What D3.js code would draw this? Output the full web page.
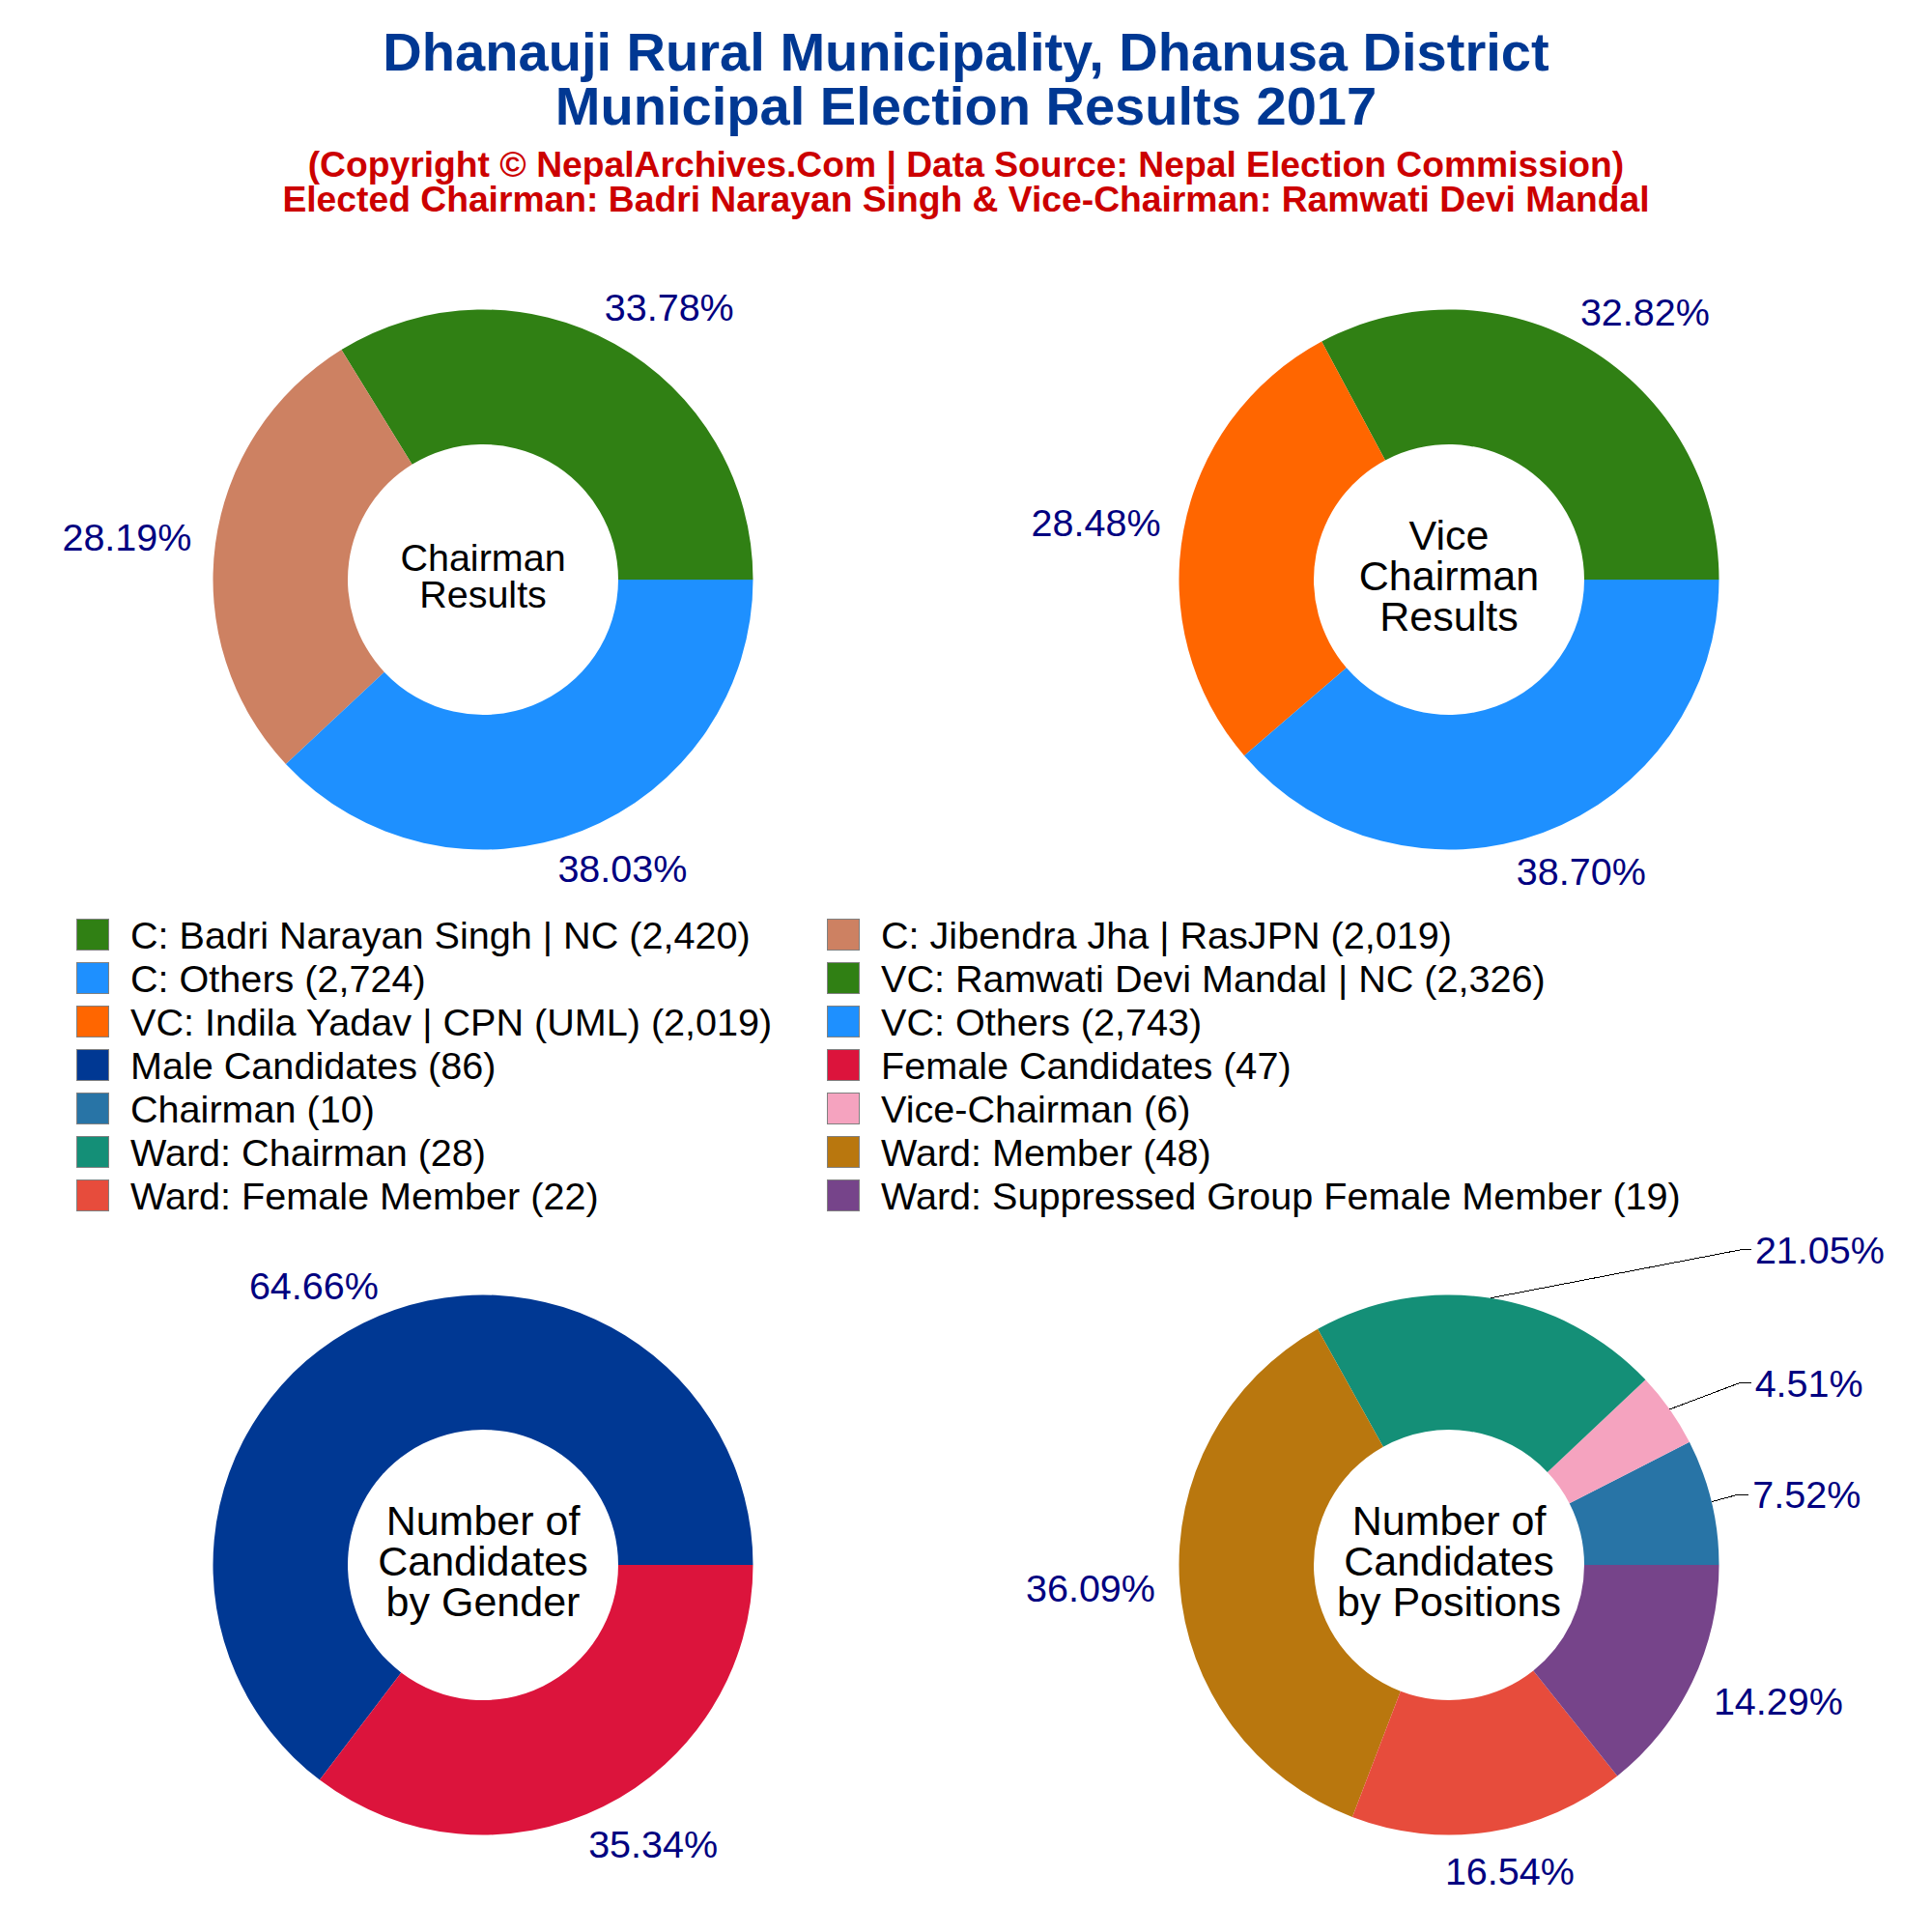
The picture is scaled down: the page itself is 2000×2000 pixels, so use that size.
<!DOCTYPE html>
<html>
<head>
<meta charset="utf-8">
<script src="https://d3js.org/d3.v7.min.js"></script>
<style>
  body { margin: 0; background: #fff; }
  text { font-family: "Liberation Sans", Arial, sans-serif; }
</style>
</head>
<body>
<div id="chart"></div>
<script>
// chart values
var chairmanNames = ["C: Badri Narayan Singh | NC", "C: Jibendra Jha | RasJPN", "C: Others"];
var chairmanVotes = [2420, 2019, 2724];
var viceNames = ["VC: Ramwati Devi Mandal | NC", "VC: Indila Yadav | CPN (UML)", "VC: Others"];
var viceVotes = [2326, 2019, 2743];
var genderNames = ["Male Candidates", "Female Candidates"];
var genderCounts = [86, 47];
var positionNames = ["Chairman", "Vice-Chairman", "Ward: Chairman", "Ward: Member", "Ward: Female Member", "Ward: Suppressed Group Female Member"];
var positionCounts = [10, 6, 28, 48, 22, 19];

var chairmanColors = ["#308014", "#CD8162", "#1E90FF"];
var viceColors = ["#308014", "#FF6600", "#1E90FF"];
var genderColors = ["#003893", "#DC143C"];
var positionColors = ["#2874A6", "#F5A3BF", "#148F77", "#B9770E", "#E74C3C", "#76448A"];

// legend reads across two columns, in this order
var legendOrder = [
  [chairmanNames[0], chairmanVotes[0], chairmanColors[0]],
  [chairmanNames[1], chairmanVotes[1], chairmanColors[1]],
  [chairmanNames[2], chairmanVotes[2], chairmanColors[2]],
  [viceNames[0], viceVotes[0], viceColors[0]],
  [viceNames[1], viceVotes[1], viceColors[1]],
  [viceNames[2], viceVotes[2], viceColors[2]],
  [genderNames[0], genderCounts[0], genderColors[0]],
  [genderNames[1], genderCounts[1], genderColors[1]],
  [positionNames[0], positionCounts[0], positionColors[0]],
  [positionNames[1], positionCounts[1], positionColors[1]],
  [positionNames[2], positionCounts[2], positionColors[2]],
  [positionNames[3], positionCounts[3], positionColors[3]],
  [positionNames[4], positionCounts[4], positionColors[4]],
  [positionNames[5], positionCounts[5], positionColors[5]]
];

var width = 2000, height = 2000;
var outerR = 279.5, innerR = 140;

var svg = d3.select("#chart")
  .append("svg")
    .attr("width", width)
    .attr("height", height);

// title block
var titleLines = [
  {t: "Dhanauji Rural Municipality, Dhanusa District", y: 73, size: 56.05, color: "#003893"},
  {t: "Municipal Election Results 2017", y: 129, size: 56.05, color: "#003893"},
  {t: "(Copyright © NepalArchives.Com | Data Source: Nepal Election Commission)", y: 183, size: 37.25, color: "#CC0000"},
  {t: "Elected Chairman: Badri Narayan Singh & Vice-Chairman: Ramwati Devi Mandal", y: 219, size: 37.25, color: "#CC0000"}
];
svg.selectAll(".title")
  .data(titleLines)
  .enter()
  .append("text")
    .attr("class", "title")
    .attr("x", 1000)
    .attr("y", function(d) { return d.y; })
    .attr("text-anchor", "middle")
    .attr("font-weight", "bold")
    .attr("font-size", function(d) { return d.size; })
    .attr("fill", function(d) { return d.color; })
    .text(function(d) { return d.t; });

// legend
var legendCol = d3.scaleOrdinal().domain([0, 1]).range([79, 856]);
var legendRow = d3.scaleLinear().domain([0, 1]).range([951, 996]);
var comma = d3.format(",");
var legend = svg.selectAll(".legendItem")
  .data(legendOrder)
  .enter()
  .append("g")
    .attr("class", "legendItem")
    .attr("transform", function(d, i) {
      return "translate(" + legendCol(i % 2) + "," + legendRow(Math.floor(i / 2)) + ")";
    });
legend.append("rect")
  .attr("x", 0.5)
  .attr("y", 0.5)
  .attr("width", 33)
  .attr("height", 32)
  .attr("fill", function(d) { return d[2]; })
  .attr("stroke", "#808080")
  .attr("stroke-width", 1);
legend.append("text")
  .attr("x", 56)
  .attr("y", 31)
  .attr("font-size", 39.6)
  .attr("fill", "#000")
  .text(function(d) { return d[0] + " (" + comma(d[1]) + ")"; });

// one donut: slices run counter-clockwise from 3 o'clock
function drawDonut(cx, cy, values, colors, centerLines, centerSize, centerGap, centerShift, labelNudge, leaders) {
  var g = svg.append("g").attr("transform", "translate(" + cx + "," + cy + ")");
  var total = d3.sum(values);
  var pie = d3.pie().sort(null).startAngle(Math.PI / 2).endAngle(Math.PI / 2 - 2 * Math.PI);
  var arc = d3.arc().innerRadius(innerR).outerRadius(outerR);
  var arcs = pie(values);

  g.selectAll(".slice")
    .data(arcs)
    .enter()
    .append("path")
      .attr("class", "slice")
      .attr("d", arc)
      .attr("fill", function(d, i) { return colors[i]; });

  // percent labels sit on an ellipse around the ring, with a small per-label nudge
  arcs.forEach(function(d, i) {
    var a = (d.startAngle + d.endAngle) / 2;
    var lx = 385 * Math.sin(a) + labelNudge[i][0];
    var ly = -324 * Math.cos(a) + labelNudge[i][1];
    var label = g.append("text")
      .attr("x", lx)
      .attr("y", ly)
      .attr("dy", "0.36em")
      .attr("text-anchor", "middle")
      .attr("font-size", 39.5)
      .attr("fill", "#000080")
      .text(d3.format(".2f")(d.value / total * 100) + "%");
    if (leaders && leaders[i]) {
      var left = lx - label.node().getComputedTextLength() / 2;
      var line = d3.line();
      g.append("path")
        .attr("d", line([
          [outerR * Math.sin(a), -outerR * Math.cos(a)],
          [left - 15, ly],
          [left - 4, ly]
        ]))
        .attr("fill", "none")
        .attr("stroke", "#000")
        .attr("stroke-width", 1)
        .attr("shape-rendering", "crispEdges");
    }
  });

  // text in the hole
  g.selectAll(".center")
    .data(centerLines)
    .enter()
    .append("text")
      .attr("class", "center")
      .attr("x", 0)
      .attr("y", function(d, i) { return (i - (centerLines.length - 1) / 2) * centerGap + centerShift; })
      .attr("dy", "0.36em")
      .attr("text-anchor", "middle")
      .attr("font-size", centerSize)
      .attr("fill", "#000")
      .text(function(d) { return d; });
}

drawDonut(500, 600, chairmanVotes, chairmanColors, ["Chairman", "Results"], 39.5, 38, -4,
  [[5, 1], [13, -1], [3, -3]]);
drawDonut(1500, 600, viceVotes, viceColors, ["Vice", "Chairman", "Results"], 43, 42, -4,
  [[5, 1], [13, 0], [3, -2]]);
drawDonut(500, 1620, genderCounts, genderColors, ["Number of", "Candidates", "by Gender"], 43, 42, -4,
  [[-4, 1], [5, -1]]);
drawDonut(1500, 1620, positionCounts, positionColors, ["Number of", "Candidates", "by Positions"], 43, 42, -4,
  [[-4, 3], [58, -2], [325, -6], [13, 1], [4, -3], [-6, 0]],
  [true, true, true, false, false, false]);
</script>
</body>
</html>
